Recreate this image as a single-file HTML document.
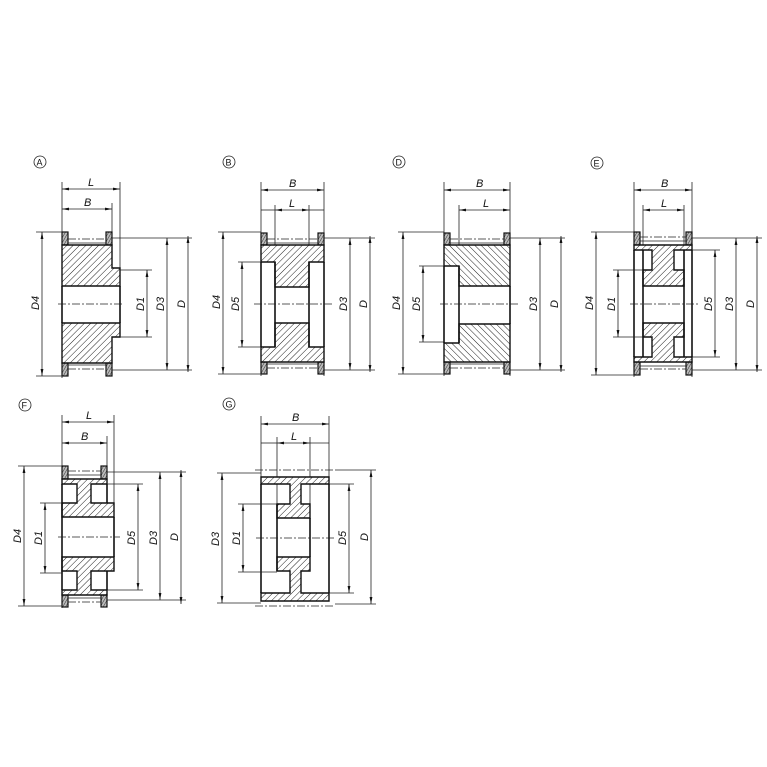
<!DOCTYPE html>
<html><head><meta charset="utf-8"><style>
html,body{margin:0;padding:0;background:#fff}
svg{display:block}
text{font-family:"Liberation Sans",sans-serif;font-style:italic;font-size:11px;fill:#111}
.o{fill:none;stroke:#111;stroke-width:1.6}
.t{fill:none;stroke:#222;stroke-width:0.8}
.cl{fill:none;stroke:#222;stroke-width:0.8;stroke-dasharray:8 2 2 2}
.h{fill:url(#h);stroke:#111;stroke-width:1.4}
.hr{fill:url(#hr);stroke:#111;stroke-width:1.4}
.f{fill:url(#x);stroke:#111;stroke-width:1.2}
.d{fill:none;stroke:#222;stroke-width:0.8;marker-start:url(#a);marker-end:url(#a)}
</style></head><body>
<svg width="767" height="767" viewBox="0 0 767 767" xmlns="http://www.w3.org/2000/svg">
<defs>
<pattern id="h" width="4.5" height="4.5" patternUnits="userSpaceOnUse" patternTransform="rotate(45)"><rect width="4.5" height="4.5" fill="#fff"/><line x1="0" y1="0" x2="0" y2="4.5" stroke="#222" stroke-width="1"/></pattern>
<pattern id="hr" width="4.5" height="4.5" patternUnits="userSpaceOnUse" patternTransform="rotate(-45)"><rect width="4.5" height="4.5" fill="#fff"/><line x1="0" y1="0" x2="0" y2="4.5" stroke="#222" stroke-width="1"/></pattern>
<pattern id="x" width="2.5" height="2.5" patternUnits="userSpaceOnUse" patternTransform="rotate(30)"><rect width="2.5" height="2.5" fill="#bbb"/><line x1="0" y1="0" x2="0" y2="2.5" stroke="#222" stroke-width="0.9"/></pattern>
<marker id="a" viewBox="0 0 10 4" refX="10" refY="2" markerWidth="7" markerHeight="3" orient="auto-start-reverse" markerUnits="userSpaceOnUse"><path d="M0,0 L10,2 L0,4z" fill="#111"/></marker>
</defs>

<!-- ===== A ===== -->
<circle cx="40" cy="162" r="6" class="t" stroke-width="0.8"/><text x="36.5" y="165.5" style="font-style:normal;font-size:9px">A</text>
<line x1="62" y1="182" x2="62" y2="378" class="t"/><line x1="120" y1="182" x2="120" y2="268" class="t"/><line x1="112" y1="203" x2="112" y2="232" class="t"/>
<line x1="62" y1="189" x2="120" y2="189" class="d"/><text x="88" y="186">L</text>
<line x1="62" y1="209" x2="112" y2="209" class="d"/><text x="84" y="206">B</text>
<rect x="62" y="232" width="6" height="13" class="f"/><rect x="106" y="232" width="6" height="13" class="f"/>
<rect x="62" y="363" width="6" height="13" class="f"/><rect x="106" y="363" width="6" height="13" class="f"/>
<line x1="68" y1="239" x2="106" y2="239" class="cl"/><line x1="68" y1="243" x2="106" y2="243" class="t"/>
<line x1="68" y1="369" x2="106" y2="369" class="cl"/><line x1="68" y1="365" x2="106" y2="365" class="t"/>
<path d="M62,245 H112 V268 H120 V286 H62 Z" class="h"/>
<path d="M62,323 H120 V337 H112 V363 H62 Z" class="h"/>
<line x1="62" y1="286" x2="62" y2="323" class="o"/><line x1="120" y1="286" x2="120" y2="323" class="o"/>
<line x1="58" y1="304" x2="124" y2="304" class="cl"/>
<line x1="36" y1="232" x2="62" y2="232" class="t"/><line x1="36" y1="376" x2="62" y2="376" class="t"/>
<line x1="42" y1="232" x2="42" y2="376" class="d"/><text transform="translate(39,310) rotate(-90)">D4</text>
<line x1="120" y1="270" x2="152" y2="270" class="t"/><line x1="120" y1="337" x2="152" y2="337" class="t"/>
<line x1="147" y1="270" x2="147" y2="337" class="d"/><text transform="translate(144,311) rotate(-90)">D1</text>
<line x1="112" y1="238" x2="192" y2="238" class="t"/><line x1="112" y1="370" x2="192" y2="370" class="t"/>
<line x1="167" y1="238" x2="167" y2="370" class="d"/><text transform="translate(164,311) rotate(-90)">D3</text>
<line x1="188" y1="236" x2="188" y2="372" class="d"/><text transform="translate(185,308) rotate(-90)">D</text>

<!-- ===== B ===== -->
<circle cx="229" cy="162" r="6" class="t" stroke-width="0.8"/><text x="225.5" y="165.5" style="font-style:normal;font-size:9px">B</text>
<line x1="261" y1="182" x2="261" y2="376" class="t"/><line x1="324" y1="182" x2="324" y2="376" class="t"/>
<line x1="275" y1="205" x2="275" y2="245" class="t"/><line x1="309" y1="205" x2="309" y2="245" class="t"/>
<line x1="261" y1="190" x2="324" y2="190" class="d"/><text x="289" y="187">B</text>
<line x1="261" y1="210" x2="275" y2="210" class="t"/><line x1="309" y1="210" x2="324" y2="210" class="t"/>
<line x1="275" y1="210" x2="309" y2="210" class="d"/><text x="289" y="207">L</text>
<rect x="261" y="233" width="6" height="12" class="f"/><rect x="318" y="233" width="6" height="12" class="f"/>
<rect x="261" y="362" width="6" height="12" class="f"/><rect x="318" y="362" width="6" height="12" class="f"/>
<line x1="267" y1="239" x2="318" y2="239" class="cl"/><line x1="267" y1="243" x2="318" y2="243" class="t"/>
<line x1="267" y1="368" x2="318" y2="368" class="cl"/><line x1="267" y1="364" x2="318" y2="364" class="t"/>
<path d="M261,245 H324 V262 H309 V287 H275 V262 H261 Z" class="h"/>
<path d="M275,323 H309 V347 H324 V362 H261 V347 H275 Z" class="h"/>
<line x1="261" y1="262" x2="261" y2="347" class="o"/><line x1="324" y1="262" x2="324" y2="347" class="o"/>
<line x1="275" y1="262" x2="275" y2="347" class="o"/><line x1="309" y1="262" x2="309" y2="347" class="o"/>
<line x1="254" y1="304" x2="332" y2="304" class="cl"/>
<line x1="218" y1="232" x2="261" y2="232" class="t"/><line x1="218" y1="374" x2="261" y2="374" class="t"/>
<line x1="223" y1="232" x2="223" y2="374" class="d"/><text transform="translate(220,309) rotate(-90)">D4</text>
<line x1="238" y1="262" x2="261" y2="262" class="t"/><line x1="238" y1="347" x2="261" y2="347" class="t"/>
<line x1="242" y1="262" x2="242" y2="347" class="d"/><text transform="translate(239,311) rotate(-90)">D5</text>
<line x1="324" y1="238" x2="375" y2="238" class="t"/><line x1="324" y1="370" x2="375" y2="370" class="t"/>
<line x1="350" y1="238" x2="350" y2="370" class="d"/><text transform="translate(347,311) rotate(-90)">D3</text>
<line x1="370" y1="236" x2="370" y2="372" class="d"/><text transform="translate(367,308) rotate(-90)">D</text>

<!-- ===== D ===== -->
<circle cx="399" cy="162" r="6" class="t" stroke-width="0.8"/><text x="395.5" y="165.5" style="font-style:normal;font-size:9px">D</text>
<line x1="444" y1="182" x2="444" y2="376" class="t"/><line x1="510" y1="182" x2="510" y2="376" class="t"/>
<line x1="459" y1="205" x2="459" y2="266" class="t"/>
<line x1="444" y1="190" x2="510" y2="190" class="d"/><text x="476" y="187">B</text>
<line x1="459" y1="210" x2="510" y2="210" class="d"/><text x="483" y="207">L</text>
<rect x="444" y="233" width="6" height="12" class="f"/><rect x="504" y="233" width="6" height="12" class="f"/>
<rect x="444" y="362" width="6" height="12" class="f"/><rect x="504" y="362" width="6" height="12" class="f"/>
<line x1="450" y1="239" x2="504" y2="239" class="cl"/><line x1="450" y1="243" x2="504" y2="243" class="t"/>
<line x1="450" y1="368" x2="504" y2="368" class="cl"/><line x1="450" y1="364" x2="504" y2="364" class="t"/>
<path d="M444,245 H510 V286 H459 V266 H444 Z" class="hr"/>
<path d="M459,324 H510 V362 H444 V343 H459 Z" class="hr"/>
<line x1="444" y1="266" x2="444" y2="343" class="o"/><line x1="459" y1="266" x2="459" y2="343" class="o"/><line x1="510" y1="286" x2="510" y2="324" class="o"/>
<line x1="440" y1="304" x2="518" y2="304" class="cl"/>
<line x1="398" y1="232" x2="444" y2="232" class="t"/><line x1="398" y1="374" x2="444" y2="374" class="t"/>
<line x1="403" y1="232" x2="403" y2="374" class="d"/><text transform="translate(400,310) rotate(-90)">D4</text>
<line x1="419" y1="266" x2="444" y2="266" class="t"/><line x1="419" y1="342" x2="444" y2="342" class="t"/>
<line x1="423" y1="266" x2="423" y2="342" class="d"/><text transform="translate(420,311) rotate(-90)">D5</text>
<line x1="510" y1="238" x2="565" y2="238" class="t"/><line x1="510" y1="370" x2="565" y2="370" class="t"/>
<line x1="540" y1="238" x2="540" y2="370" class="d"/><text transform="translate(537,311) rotate(-90)">D3</text>
<line x1="561" y1="236" x2="561" y2="372" class="d"/><text transform="translate(558,308) rotate(-90)">D</text>

<!-- ===== E ===== -->
<circle cx="597" cy="163" r="6" class="t" stroke-width="0.8"/><text x="593.5" y="166.5" style="font-style:normal;font-size:9px">E</text>
<line x1="634" y1="182" x2="634" y2="377" class="t"/><line x1="692" y1="182" x2="692" y2="377" class="t"/>
<line x1="643" y1="205" x2="643" y2="245" class="t"/><line x1="684" y1="205" x2="684" y2="245" class="t"/>
<line x1="634" y1="190" x2="692" y2="190" class="d"/><text x="661" y="187">B</text>
<line x1="643" y1="210" x2="684" y2="210" class="d"/><text x="661" y="207">L</text>
<rect x="634" y="232" width="6" height="13" class="f"/><rect x="686" y="232" width="6" height="13" class="f"/>
<rect x="634" y="362" width="6" height="13" class="f"/><rect x="686" y="362" width="6" height="13" class="f"/>
<line x1="640" y1="237" x2="686" y2="237" class="cl"/><line x1="640" y1="241" x2="686" y2="241" class="t"/>
<line x1="640" y1="369" x2="686" y2="369" class="cl"/><line x1="640" y1="366" x2="686" y2="366" class="t"/>
<path d="M634,245 H692 V250 H674 V270 H684 V286 H643 V270 H652 V250 H634 Z" class="h"/>
<path d="M643,323 H684 V337 H674 V357 H692 V362 H634 V357 H652 V337 H643 Z" class="h"/>
<line x1="634" y1="250" x2="634" y2="357" class="o"/><line x1="692" y1="250" x2="692" y2="357" class="o"/>
<line x1="643" y1="250" x2="643" y2="357" class="o"/><line x1="684" y1="250" x2="684" y2="357" class="o"/>
<line x1="630" y1="304" x2="698" y2="304" class="cl"/>
<line x1="591" y1="232" x2="634" y2="232" class="t"/><line x1="591" y1="375" x2="634" y2="375" class="t"/>
<line x1="596" y1="232" x2="596" y2="375" class="d"/><text transform="translate(593,310) rotate(-90)">D4</text>
<line x1="613" y1="270" x2="643" y2="270" class="t"/><line x1="613" y1="337" x2="643" y2="337" class="t"/>
<line x1="618" y1="270" x2="618" y2="337" class="d"/><text transform="translate(615,311) rotate(-90)">D1</text>
<line x1="692" y1="250" x2="720" y2="250" class="t"/><line x1="692" y1="357" x2="720" y2="357" class="t"/>
<line x1="715" y1="250" x2="715" y2="357" class="d"/><text transform="translate(712,311) rotate(-90)">D5</text>
<line x1="692" y1="238" x2="762" y2="238" class="t"/><line x1="692" y1="370" x2="762" y2="370" class="t"/>
<line x1="736" y1="238" x2="736" y2="370" class="d"/><text transform="translate(733,311) rotate(-90)">D3</text>
<line x1="757" y1="236" x2="757" y2="372" class="d"/><text transform="translate(754,308) rotate(-90)">D</text>

<!-- ===== F ===== -->
<circle cx="25" cy="405" r="6" class="t" stroke-width="0.8"/><text x="21.5" y="408.5" style="font-style:normal;font-size:9px">F</text>
<line x1="62" y1="415" x2="62" y2="608" class="t"/><line x1="114" y1="415" x2="114" y2="503" class="t"/><line x1="107" y1="436" x2="107" y2="466" class="t"/>
<line x1="62" y1="422" x2="114" y2="422" class="d"/><text x="86" y="419">L</text>
<line x1="62" y1="443" x2="107" y2="443" class="d"/><text x="81" y="440">B</text>
<rect x="62" y="466" width="6" height="13" class="f"/><rect x="101" y="466" width="6" height="13" class="f"/>
<rect x="62" y="595" width="6" height="12" class="f"/><rect x="101" y="595" width="6" height="12" class="f"/>
<line x1="68" y1="471" x2="101" y2="471" class="cl"/><line x1="68" y1="475" x2="101" y2="475" class="t"/>
<line x1="68" y1="602" x2="101" y2="602" class="cl"/><line x1="68" y1="598" x2="101" y2="598" class="t"/>
<path d="M62,479 H107 V484 H91 V503 H114 V517 H62 V503 H77 V484 H62 Z" class="h"/>
<path d="M62,557 H114 V571 H91 V590 H107 V595 H62 V590 H77 V571 H62 Z" class="h"/>
<line x1="62" y1="484" x2="62" y2="590" class="o"/><line x1="107" y1="484" x2="107" y2="503" class="o"/><line x1="107" y1="571" x2="107" y2="590" class="o"/>
<line x1="114" y1="517" x2="114" y2="557" class="o"/>
<line x1="58" y1="537" x2="120" y2="537" class="cl"/>
<line x1="18" y1="466" x2="62" y2="466" class="t"/><line x1="18" y1="606" x2="62" y2="606" class="t"/>
<line x1="24" y1="466" x2="24" y2="606" class="d"/><text transform="translate(21,543) rotate(-90)">D4</text>
<line x1="40" y1="503" x2="62" y2="503" class="t"/><line x1="40" y1="573" x2="62" y2="573" class="t"/>
<line x1="45" y1="503" x2="45" y2="573" class="d"/><text transform="translate(42,545) rotate(-90)">D1</text>
<line x1="107" y1="484" x2="143" y2="484" class="t"/><line x1="107" y1="590" x2="143" y2="590" class="t"/>
<line x1="138" y1="484" x2="138" y2="590" class="d"/><text transform="translate(135,545) rotate(-90)">D5</text>
<line x1="107" y1="472" x2="186" y2="472" class="t"/><line x1="107" y1="600" x2="186" y2="600" class="t"/>
<line x1="160" y1="472" x2="160" y2="600" class="d"/><text transform="translate(157,545) rotate(-90)">D3</text>
<line x1="181" y1="470" x2="181" y2="604" class="d"/><text transform="translate(178,541) rotate(-90)">D</text>

<!-- ===== G ===== -->
<circle cx="229" cy="404" r="6" class="t" stroke-width="0.8"/><text x="225.5" y="407.5" style="font-style:normal;font-size:9px">G</text>
<line x1="261" y1="416" x2="261" y2="477" class="t"/><line x1="329" y1="416" x2="329" y2="477" class="t"/>
<line x1="277" y1="437" x2="277" y2="504" class="t"/><line x1="310" y1="437" x2="310" y2="504" class="t"/>
<line x1="261" y1="424" x2="329" y2="424" class="d"/><text x="292" y="421">B</text>
<line x1="261" y1="443" x2="277" y2="443" class="t"/><line x1="310" y1="443" x2="329" y2="443" class="t"/>
<line x1="277" y1="443" x2="310" y2="443" class="d"/><text x="291" y="440">L</text>
<line x1="255" y1="470" x2="335" y2="470" class="cl"/><line x1="255" y1="606" x2="335" y2="606" class="cl"/>
<path d="M261,477 H329 V484 H301 V504 H310 V518 H277 V504 H290 V484 H261 Z" class="h"/>
<path d="M277,557 H310 V571 H301 V593 H329 V601 H261 V593 H290 V571 H277 Z" class="h"/>
<line x1="261" y1="484" x2="261" y2="593" class="o"/><line x1="329" y1="484" x2="329" y2="593" class="o"/>
<line x1="277" y1="504" x2="277" y2="571" class="o"/><line x1="310" y1="518" x2="310" y2="557" class="o"/>
<line x1="256" y1="538" x2="334" y2="538" class="cl"/>
<line x1="217" y1="473" x2="261" y2="473" class="t"/><line x1="217" y1="603" x2="261" y2="603" class="t"/>
<line x1="222" y1="473" x2="222" y2="603" class="d"/><text transform="translate(219,546) rotate(-90)">D3</text>
<line x1="238" y1="504" x2="277" y2="504" class="t"/><line x1="238" y1="572" x2="277" y2="572" class="t"/>
<line x1="243" y1="504" x2="243" y2="572" class="d"/><text transform="translate(240,545) rotate(-90)">D1</text>
<line x1="329" y1="484" x2="354" y2="484" class="t"/><line x1="329" y1="593" x2="354" y2="593" class="t"/>
<line x1="349" y1="484" x2="349" y2="593" class="d"/><text transform="translate(346,545) rotate(-90)">D5</text>
<line x1="335" y1="470" x2="376" y2="470" class="t"/><line x1="335" y1="604" x2="376" y2="604" class="t"/>
<line x1="371" y1="470" x2="371" y2="604" class="d"/><text transform="translate(368,541) rotate(-90)">D</text>
</svg>
</body></html>
